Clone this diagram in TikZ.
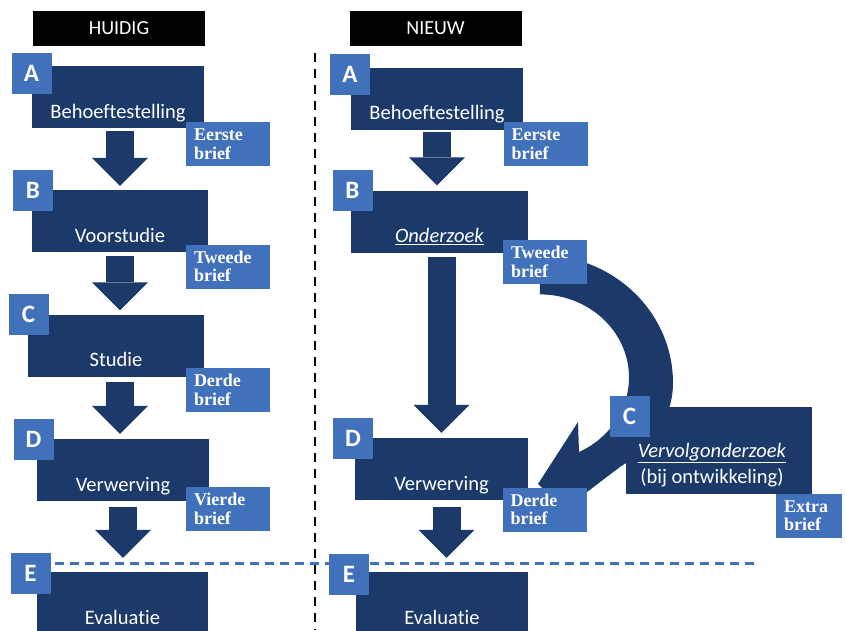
\documentclass[tikz,border=0pt]{standalone}
\usepackage{fontspec}
\setmainfont{Carlito}[Ligatures=NoCommon]
\newfontfamily\brieffont{Liberation Serif}
\usetikzlibrary{arrows.meta,positioning}
\definecolor{donker}{RGB}{27,57,105}
\definecolor{licht}{RGB}{66,113,188}
\tikzset{
  mainbox/.style={fill=donker,text=white,inner sep=0pt,minimum height=62pt,text height=52pt,text depth=10pt,font=\fontsize{20.5}{26}\selectfont},
  letterbox/.style={fill=licht,text=white,inner sep=0pt,minimum width=40pt,minimum height=41pt,font=\fontsize{25}{30}\selectfont\bfseries},
  briefbox/.style={fill=licht,text=white,inner xsep=8pt,inner ysep=0pt,minimum width=84pt,minimum height=44pt,text width=68pt,align=left,font=\brieffont\bfseries\fontsize{18}{18.5}\selectfont},
  kop/.style={fill=black,text=white,inner sep=0pt,minimum width=172pt,minimum height=35pt,font=\fontsize{20}{24}\selectfont},
  pijl/.style={donker,line width=28pt,-{Triangle[length=28pt,width=56pt,line width=0pt]}},
}
\begin{document}
\begin{tikzpicture}[x=1pt,y=1pt]
\useasboundingbox (0,0) rectangle (846,-630);
\draw[black,line width=2.5pt,dash pattern=on 9pt off 7pt] (315,-53) -- (315,-630);
\draw[licht,line width=3pt,dash pattern=on 9pt off 6pt] (55,-563) -- (755,-563);

\node[kop] (hkop) at (119,-28.5) {HUIDIG};
\node[kop] (nkop) at (435.5,-28.5) {NIEUW};

% huidig
\node[mainbox,minimum width=172pt] (ha) at (118,-97) {Behoeftestelling};
\node[mainbox,minimum width=176pt] (hb) at (120,-221) {Voorstudie};
\node[mainbox,minimum width=176pt] (hc) at (116,-345.5) {Studie};
\node[mainbox,minimum width=172pt] (hd) at (123,-470) {Verwerving};
\node[mainbox,minimum width=171pt] (he) at (122.5,-603) {Evaluatie};
\node[letterbox] (hla) at (31.5,-73) {A};
\node[letterbox] (hlb) at (33,-190.5) {B};
\node[letterbox] (hlc) at (28.5,-314.5) {C};
\node[letterbox] (hld) at (33.5,-439.5) {D};
\node[letterbox] (hle) at (30.5,-573.5) {E};
\node[briefbox] (hba) at (228,-144) {Eerste\\brief};
\node[briefbox] (hbb) at (228,-266.5) {Tweede\\brief};
\node[briefbox] (hbc) at (228,-390) {Derde\\brief};
\node[briefbox] (hbd) at (228,-509) {Vierde\\brief};
\draw[pijl] ([yshift=-3pt]hb.north |- ha.south) -- ([yshift=4pt]hb.north);
\draw[pijl] ([yshift=-4pt]hb.south) -- ([yshift=4pt]hb.south |- hc.north);
\draw[pijl] ([xshift=4pt,yshift=-5pt]hc.south) -- ([xshift=4pt,yshift=5pt]hc.south |- hd.north);
\draw[pijl] ([yshift=-6pt]hd.south) -- ([yshift=14pt]hd.south |- he.north);

% nieuw
\fill[donker] (540,-255)
  arc[start angle=90,end angle=0,x radius=133,y radius=128]
  arc[start angle=0,end angle=-53,x radius=133,y radius=105]
  -- (587,-492) -- (572,-515) -- (538,-484) -- (578,-422) -- (579,-452)
  arc[start angle=-64,end angle=90,x radius=89,y radius=83] -- cycle;
\node[mainbox,minimum width=172pt] (na) at (437,-98.5) {Behoeftestelling};
\node[mainbox,minimum width=177pt] (nb) at (439.5,-221.5) {\underline{\textit{Onderzoek}}};
\node[mainbox,minimum width=173pt] (nd) at (441.5,-469) {Verwerving};
\node[mainbox,minimum width=172pt] (ne) at (442,-603) {Evaluatie};
\node[mainbox,minimum width=186pt,minimum height=87pt,text height=76pt,text depth=11pt] (nc) at (719,-450.5) {};
\node[text=white,align=center,inner sep=0pt,font=\fontsize{20.5}{26}\selectfont] (nct) at ([xshift=-7pt,yshift=-14.5pt]nc.center) {\underline{\textit{Vervolgonderzoek}}\\(bij ontwikkeling)};
\node[letterbox] (nla) at (350,-74) {A};
\node[letterbox] (nlb) at (352.5,-190.5) {B};
\node[letterbox] (nlc) at (629.5,-416) {C};
\node[letterbox] (nld) at (353,-438.5) {D};
\node[letterbox] (nle) at (349,-574.5) {E};
\node[briefbox] (nba) at (545.5,-144) {Eerste\\brief};
\node[briefbox] (nbb) at (545,-262) {Tweede\\brief};
\node[briefbox] (nbd) at (544.5,-509.5) {Derde\\brief};
\node[briefbox,minimum width=66pt,text width=50pt] (nbc) at (809,-515.5) {Extra\\brief};
\draw[pijl] ([yshift=-2pt]na.south) -- ([yshift=5pt]na.south |- nb.north);
\draw[pijl] ([yshift=-4pt]nd.north |- nb.south) -- ([yshift=5pt]nd.north);
\draw[pijl] ([xshift=5pt,yshift=-7pt]nd.south) -- ([xshift=5pt,yshift=14pt]nd.south |- ne.north);
\end{tikzpicture}
\end{document}
